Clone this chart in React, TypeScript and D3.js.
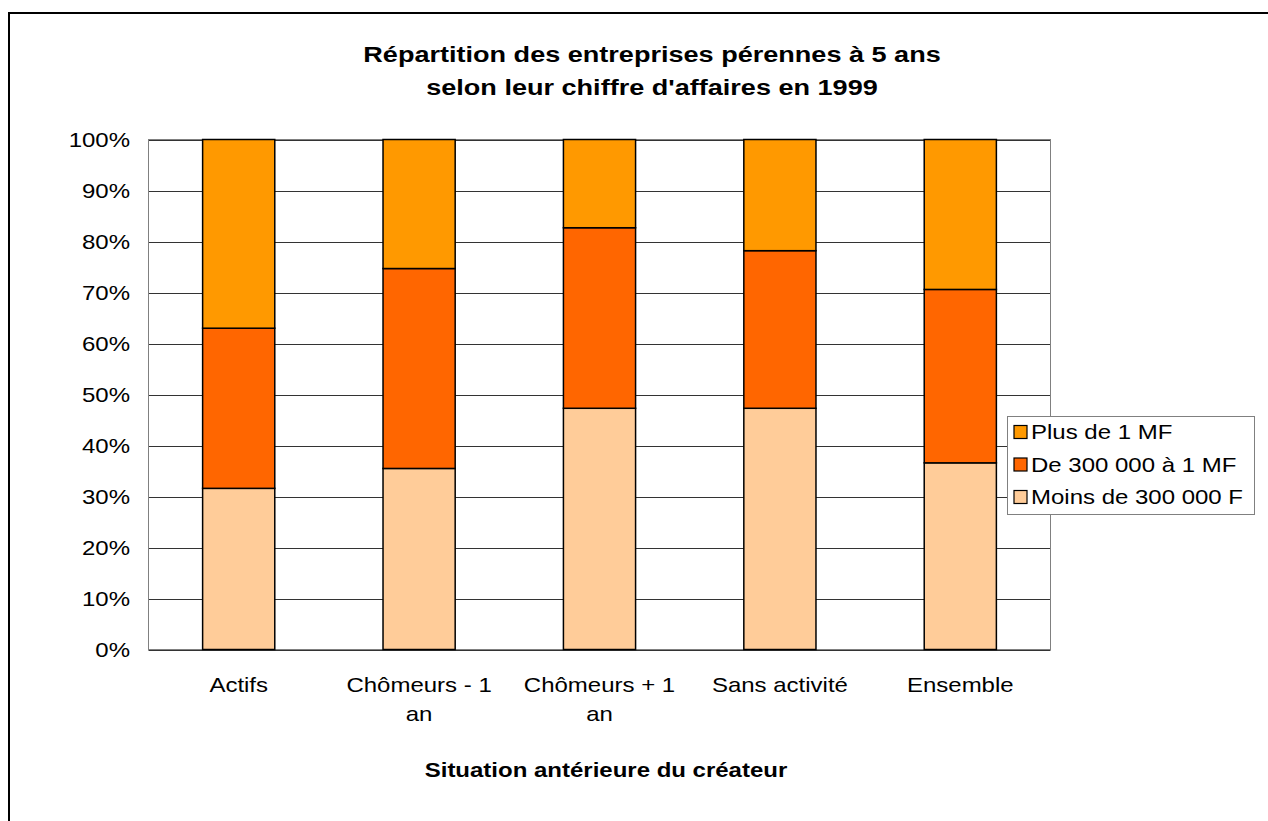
import React from 'react';
import { scaleBand, scaleLinear, stack } from 'd3';

const categories = ['Actifs', 'Chômeurs - 1 an', 'Chômeurs + 1 an', 'Sans activité', 'Ensemble'];
const categoryLines = [['Actifs'], ['Chômeurs - 1', 'an'], ['Chômeurs + 1', 'an'], ['Sans activité'], ['Ensemble']];
const seriesNames = ['Moins de 300 000 F', 'De 300 000 à 1 MF', 'Plus de 1 MF'];
const moins = [31.6, 35.5, 47.3, 47.3, 36.6];
const de300 = [31.4, 39.2, 35.4, 30.9, 34.0];
const plus1 = [37.0, 25.3, 17.3, 21.8, 29.4];
const yTicks = [0, 10, 20, 30, 40, 50, 60, 70, 80, 90, 100];
const colors = ['#FFCC99', '#FF6600', '#FF9900'];

const width = 1268;
const height = 821;
const plot = { left: 148.5, right: 1050.5, top: 139.5, bottom: 649.5 };
const font = '"Liberation Sans", Arial, sans-serif';
// the original picture's text is stretched sideways
const stretch = 1.2;

const T = ({ x, y, anchor = 'start', size, bold = false, sx = stretch, dy, children }: any) => (
  <text
    transform={`translate(${x},${y}) scale(${sx},1)`}
    textAnchor={anchor}
    fontSize={size}
    fontWeight={bold ? 'bold' : 'normal'}
    dy={dy}
  >
    {children}
  </text>
);

const App = () => {
  const rows = categories.map((c, i) => ({
    cat: c,
    [seriesNames[0]]: moins[i],
    [seriesNames[1]]: de300[i],
    [seriesNames[2]]: plus1[i],
  }));
  const stacked = stack<any>().keys(seriesNames)(rows);

  const xScale = scaleBand()
    .domain(categories)
    .range([plot.left, plot.right])
    .paddingInner(0.6)
    .paddingOuter(0.3);
  const yScale = scaleLinear().domain([0, 100]).range([plot.bottom, plot.top]);

  // legend order: top entry is last series
  const legendItems = [2, 1, 0];

  return (
    <svg
      width={width}
      height={height}
      style={{ position: 'absolute', left: 0, top: 0, background: '#fff' }}
      fontFamily={font}
    >
      <rect x={9} y={13} width={1300} height={900} fill="#fff" stroke="#000" strokeWidth={2} />

      <T x={652} y={62} anchor="middle" size={22} bold sx={1.23}>
        Répartition des entreprises pérennes à 5 ans
      </T>
      <T x={652} y={95} anchor="middle" size={22} bold sx={1.23}>
        selon leur chiffre d'affaires en 1999
      </T>

      {yTicks.map((t) => (
        <g key={t}>
          <line
            x1={plot.left}
            x2={plot.right}
            y1={Math.round(yScale(t)) + 0.5}
            y2={Math.round(yScale(t)) + 0.5}
            stroke="#333"
            strokeWidth={1}
          />
          <T x={130} y={yScale(t)} dy="0.35em" anchor="end" size={20}>
            {t}%
          </T>
        </g>
      ))}
      <rect
        x={plot.left}
        y={plot.top}
        width={plot.right - plot.left}
        height={plot.bottom - plot.top}
        fill="none"
        stroke="#808080"
        strokeWidth={1}
      />

      {stacked.map((s, si) => (
        <g key={s.key} fill={colors[si]}>
          {s.map((d, i) => (
            <rect
              key={i}
              x={xScale(categories[i])}
              y={yScale(d[1])}
              width={xScale.bandwidth()}
              height={yScale(d[0]) - yScale(d[1])}
              stroke="#000"
              strokeWidth={1.5}
            />
          ))}
        </g>
      ))}

      {categoryLines.map((lines, i) =>
        lines.map((l, j) => (
          <T
            key={`${i}-${j}`}
            x={(xScale(categories[i]) as number) + xScale.bandwidth() / 2}
            y={692 + j * 29}
            anchor="middle"
            size={20}
          >
            {l}
          </T>
        ))
      )}

      <T x={606} y={777} anchor="middle" size={20} bold>
        Situation antérieure du créateur
      </T>

      <g>
        <rect x={1007.5} y={416.5} width={247} height={98} fill="#fff" stroke="#808080" strokeWidth={1} />
        {legendItems.map((si, k) => (
          <g key={si} transform={`translate(1014, ${432 + k * 32.5})`}>
            <rect x={0} y={-6.5} width={13} height={13} fill={colors[si]} stroke="#000" strokeWidth={1.2} />
            <T x={17} y={0} dy="0.36em" size={20}>
              {seriesNames[si]}
            </T>
          </g>
        ))}
      </g>
    </svg>
  );
};

export default App;
